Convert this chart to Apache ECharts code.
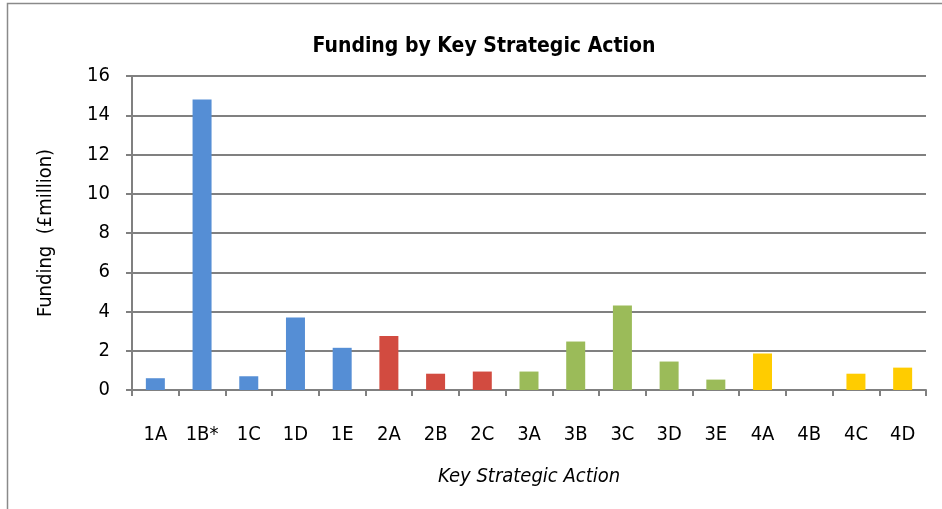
<!DOCTYPE html>
<html><head><meta charset="utf-8">
<script src="https://cdn.jsdelivr.net/npm/echarts@6/dist/echarts.min.js"></script>
<style>html,body{margin:0;padding:0;background:#fff}#c{width:942px;height:509px}</style>
</head><body><div id="c"></div>
<script>
var categories = ['1A','1B*','1C','1D','1E','2A','2B','2C','3A','3B','3C','3D','3E','4A','4B','4C','4D'];
var values = [0.6, 14.8, 0.7, 3.7, 2.15, 2.75, 0.83, 0.94, 0.94, 2.47, 4.31, 1.45, 0.53, 1.86, 0, 0.83, 1.14];
var groupColors = {'1':'#558ED5','2':'#D24B40','3':'#9BBB59','4':'#FFCC00'};
var yTicks = {min:0, max:16, interval:2};

var FONT = "'DejaVu Sans Condensed','Liberation Sans',sans-serif";
var chart = echarts.init(document.getElementById('c'));
chart.setOption({
  animation:false,
  title:{text:'Funding by Key Strategic Action', left:479, textAlign:'center', top:31,
    textStyle:{fontFamily:FONT, fontSize:21, fontWeight:'bold', color:'#000'}},
  graphic:[{type:'rect', shape:{x:7.5,y:3.5,width:1000,height:600}, style:{fill:'none',stroke:'#8a8a8a',lineWidth:1.5}, silent:true}],
  grid:{left:132, right:16, top:76, bottom:119, containLabel:false},
  xAxis:{type:'category', data:categories, boundaryGap:true,
    name:'Key Strategic Action', nameLocation:'middle', nameGap:77,
    nameTextStyle:{fontFamily:FONT, fontSize:20, fontStyle:'italic', color:'#000'},
    axisLine:{lineStyle:{color:'#808080', width:2}},
    axisTick:{show:true, inside:false, length:6, lineStyle:{color:'#808080', width:2}, alignWithLabel:false},
    axisLabel:{fontFamily:FONT, fontSize:20, color:'#000', margin:35, interval:0}},
  yAxis:{type:'value', min:yTicks.min, max:yTicks.max, interval:yTicks.interval,
    name:'Funding  (£million)', nameLocation:'middle', nameGap:76, nameRotate:90,
    nameTextStyle:{fontFamily:FONT, fontSize:20, color:'#000'},
    axisLine:{show:true, lineStyle:{color:'#808080', width:2}},
    axisTick:{show:true, length:6, lineStyle:{color:'#808080', width:2}},
    splitLine:{lineStyle:{color:'#808080', width:2}},
    axisLabel:{fontFamily:FONT, fontSize:20, color:'#000', margin:22}},
  series:[{type:'bar', barWidth:19,
    data: values.map(function(v,i){return {value:v, itemStyle:{color:groupColors[categories[i].charAt(0)]}};})}]
});
</script></body></html>
